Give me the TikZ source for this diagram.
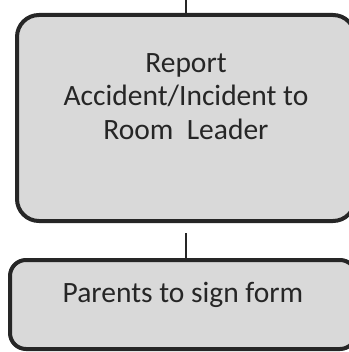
\documentclass[tikz,border=0pt]{standalone}
\usepackage{fontspec}
\setmainfont{Carlito}
\definecolor{boxfill}{HTML}{D9D9D9}
\definecolor{boxline}{HTML}{262626}
\definecolor{txt}{HTML}{262626}
\begin{document}
\begin{tikzpicture}[x=1pt,y=-1pt,
  stepbox/.style={draw=boxline,fill=boxfill,line width=4pt,rounded corners=#1,inner sep=0pt},
  lbl/.style={text=txt,font=\fontsize{29.5}{33.5}\selectfont,align=center,inner sep=0pt},
  conn/.style={draw=boxline,line width=1.5pt}]
\useasboundingbox (0,0) rectangle (348,352);
\node[stepbox=22pt,minimum width=338pt,minimum height=206pt] (b1) at (186,118) {};
\node[lbl] (t1) at (186,96.5) {Report\\Accident/Incident to\\Room\ \ Leader};
\node[stepbox=16pt,minimum width=346pt,minimum height=89pt] (b2) at (183,304.5) {};
\node[lbl] (t2) at (183,295) {Parents to sign form};
\coordinate (c0) at (186,0);
\coordinate (c1) at (186,233);
\draw[conn] (c0) -- (b1.north);
\draw[conn] (c1) -- (b2.north -| c1);
\end{tikzpicture}
\end{document}
